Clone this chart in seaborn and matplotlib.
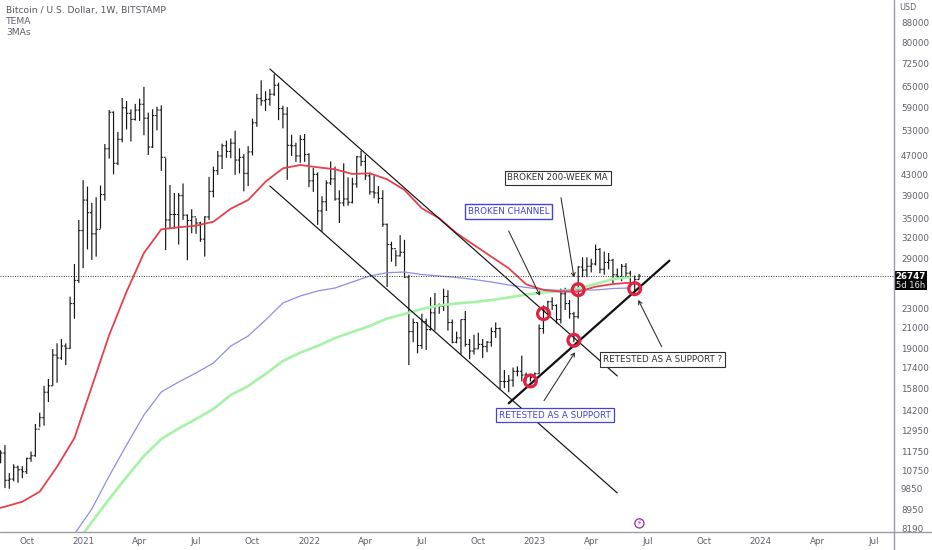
import matplotlib
matplotlib.use("Agg")
import matplotlib.pyplot as plt
import matplotlib.ticker as mticker
import matplotlib.transforms as mtrans
from matplotlib.lines import Line2D
from matplotlib.patches import Rectangle
import pandas as pd
import seaborn as sns

# weekly bars, Bitstamp BTCUSD
FIRST_WEEK = "2020-08-24"
OPENS = [
    11500, 11650, 10250, 10310, 10900, 10770, 10670, 11360, 11500, 13030,
    13750, 15500, 15970, 18450, 18200, 19250, 19050, 23500, 26200, 33100,
    38200, 36000, 32600, 33300, 39200, 48600, 57700, 45400, 50800, 58900,
    57400, 55800, 58300, 59900, 56100, 49000, 56800, 58300, 46700, 34800,
    35700, 35700, 39000, 35600, 34700, 35300, 34300, 31800, 35300, 39800,
    43850, 47000, 49300, 48000, 49900, 46100, 46700, 43300, 47900, 54900,
    61500, 60900, 61300, 62800, 65500, 58700, 57200, 49400, 49300, 47000,
    50800, 47300, 41800, 43100, 36300, 37900, 41400, 42200, 38400, 37700,
    38400, 37800, 41200, 46800, 45800, 42800, 39700, 39500, 38500, 34100,
    31000, 30400, 29400, 29900, 26600, 20600, 21500, 19300, 21600, 20800,
    22500, 23300, 23200, 24300, 21500, 19600, 20000, 21800, 19400, 18800,
    19000, 19400, 19200, 19600, 20600, 20900, 16300, 16300, 16400, 17100,
    17100, 16800, 16800, 16600, 16900, 20900, 22700, 23700, 23300, 21800,
    24600, 23500, 22400, 22100, 27900, 27500, 28000, 28300, 30300, 27600,
    28500, 28800, 26900, 26700, 28000, 27100, 25900, 26300,
]
HIGHS = [
    11800, 12090, 10600, 11050, 10980, 10950, 11400, 11730, 13350, 14080,
    15970, 16490, 18980, 19500, 19900, 19490, 24270, 28290, 34800, 41950,
    40700, 37700, 38700, 40900, 49700, 58300, 57900, 52600, 61700, 60800,
    58500, 60000, 61500, 65000, 57600, 58500, 59200, 59600, 46500, 41000,
    39500, 39500, 41300, 35700, 36600, 35100, 34500, 35400, 42600, 44700,
    48100, 49800, 50500, 51000, 52900, 48700, 47400, 49200, 56000, 62900,
    67000, 63700, 64300, 69000, 66300, 59500, 59100, 51900, 50000, 51800,
    52100, 47600, 44400, 43500, 38900, 41900, 45800, 44700, 40000, 45400,
    42500, 42400, 47000, 48200, 47200, 43400, 42900, 40800, 40000, 34200,
    31400, 30200, 32400, 31700, 26900, 21900, 21500, 22400, 21900, 24200,
    24700, 23500, 25200, 25000, 21800, 20600, 21800, 22700, 19900, 20300,
    20500, 19900, 19700, 21000, 21500, 21000, 17200, 16800, 17400, 17500,
    18400, 17000, 16900, 17000, 21300, 23300, 23800, 24200, 23400, 25200,
    25300, 23900, 22600, 28000, 29200, 29200, 29000, 31000, 30500, 30000,
    29800, 29000, 27700, 28300, 28400, 27400, 26800, 27000,
]
LOWS = [
    11100, 9880, 9850, 10200, 10130, 10350, 10560, 11180, 11450, 13150,
    13250, 14800, 15970, 16200, 18040, 17600, 19000, 21880, 25900, 27750,
    30300, 28850, 29300, 33400, 38100, 46400, 43100, 45000, 50100, 53200,
    50300, 55500, 55400, 51800, 47200, 48800, 53000, 43800, 30200, 33400,
    33400, 31000, 34800, 28800, 32700, 32600, 31400, 29300, 34800, 38700,
    43000, 44200, 46600, 46500, 43000, 43300, 39800, 40800, 47100, 53900,
    59500, 58000, 59500, 62300, 55600, 53500, 42000, 47000, 45700, 45500,
    45700, 40600, 39700, 34000, 32900, 36300, 41000, 38100, 34300, 37100,
    37200, 37600, 40500, 44800, 42000, 39200, 38500, 37600, 33700, 25400,
    28600, 28000, 29300, 26500, 17600, 19600, 18600, 19000, 18900, 20700,
    20700, 22400, 22700, 20700, 19500, 19500, 18500, 19200, 18100, 18500,
    19000, 18200, 18700, 19200, 20000, 15700, 15800, 15500, 15900, 16700,
    16300, 16300, 16300, 16500, 16900, 20400, 22300, 22800, 21400, 21400,
    22800, 21900, 19600, 21900, 26600, 26600, 27200, 28100, 27100, 26900,
    27600, 25800, 26400, 26100, 26500, 25400, 24800, 26300,
]
CLOSES = [
    11650, 10250, 10310, 10900, 10770, 10670, 11360, 11500, 13030, 13750,
    15500, 15970, 18450, 18200, 19250, 19050, 23500, 26200, 33100, 38200,
    36000, 32600, 33300, 39200, 48600, 57700, 45400, 50800, 58900, 57400,
    55800, 58300, 59900, 56100, 49000, 56800, 58300, 46700, 34800, 35700,
    35700, 39000, 35600, 34700, 35300, 34300, 31800, 35300, 39800, 43850,
    47000, 49300, 48000, 49900, 46100, 46700, 43300, 47900, 54900, 61500,
    60900, 61300, 62800, 65500, 58700, 57200, 49400, 49300, 47000, 50800,
    47300, 41800, 43100, 36300, 37900, 41400, 42200, 38400, 37700, 38400,
    37800, 41200, 46800, 45800, 42800, 39700, 39500, 38500, 34100, 31000,
    30400, 29400, 29900, 26600, 20600, 21500, 19300, 21600, 20800, 22500,
    23300, 23200, 24300, 21500, 19600, 20000, 21800, 19400, 18800, 19000,
    19400, 19200, 19600, 20600, 20900, 16300, 16300, 16400, 17100, 17100,
    16800, 16800, 16600, 16900, 20900, 22700, 23700, 23300, 21800, 24600,
    23500, 22400, 22100, 27900, 27500, 28000, 28300, 30300, 27600, 28500,
    28800, 26900, 26700, 28000, 27100, 25900, 26300, 26747,
]

# moving averages, one reading every four weeks
MA_START = "2020-08-03"
TEMA = [
    8875, 9054, 9270, 9715, 10926, 12501, 15905, 20275, 24846, 29795,
    33302, 33622, 33870, 34510, 36686, 38217, 41644, 44340, 45040, 44560,
    44140, 43180, 43320, 42115, 40050, 36750, 35070, 32685, 30940, 29285,
    27730, 25725, 25045, 24846, 24846, 25437, 25760, 25917,
]
MA_BLUE = [
    6888, 7965, 8957, 10459, 12098, 13927, 15516, 16262, 16964, 17777,
    19255, 20180, 21754, 23562, 24351, 24929, 25282, 26004, 26747, 27165,
    27250, 26936, 26747, 26560, 26312, 26004, 25640, 25342, 25105, 24987,
    25045, 25045, 25222, 25282,
]
MA_GREEN = [
    7528, 8429, 9388, 10411, 11487, 12443, 13070, 13668, 14325, 15299,
    15958, 16881, 17944, 18658, 19255, 19992, 20564, 21152, 21909, 22376,
    22909, 23289, 23508, 23673, 23895, 24180, 24522, 24752, 24929, 25222,
    25760, 26373, 26621,
]

LAST_PRICE = 26747
Y_TICKS = [88000, 80000, 72500, 65000, 59000, 53000, 47000, 43000, 39000, 35000, 32000, 29000,
           23000, 21000, 19000, 17400, 15800, 14200, 12950, 11750, 10750, 9850, 8950, 8190]
X_TICK_DATES = ["2020-10-05", "2021-01-04", "2021-04-05", "2021-07-05", "2021-10-04", "2022-01-03",
                "2022-04-04", "2022-07-04", "2022-10-03", "2023-01-02", "2023-04-03", "2023-07-03",
                "2023-10-02", "2024-01-01", "2024-04-01", "2024-07-01"]
X_TICK_LABELS = ["Oct", "2021", "Apr", "Jul", "Oct", "2022", "Apr", "Jul", "Oct", "2023", "Apr", "Jul",
                 "Oct", "2024", "Apr", "Jul"]

# drawing tools on the chart: (start date, start price, end date, end price)
CHANNEL_TOP = ("2021-11-01", 70690, "2023-05-15", 16726)
CHANNEL_BOTTOM = ("2021-11-01", 40810, "2023-05-15", 9656)
SUPPORT = ("2022-11-21", 14714, "2023-08-07", 28740)
RING_DATES = ["2023-01-16", "2023-03-13", "2023-03-06", "2022-12-26", "2023-06-12"]
RING_PRICES = [22408, 25080, 19777, 16337, 25198]

TEXT_GREY = "#5d606b"
AXIS_GREY = "#9b9ea6"
BLUE_TEXT = "#4343d6"
DARK = "#2f2f33"

sns.set_style("white")
plt.rcParams["font.family"] = ["DejaVu Sans"]

fig = plt.figure(figsize=(9.32, 5.5), dpi=100)
ax = fig.add_axes([0, 1 - 532 / 550, 894 / 932, 532 / 550])
# pixel coordinates of the picture, origin top left
px = mtrans.Affine2D().scale(1, -1).translate(0, 550)

bars = pd.DataFrame({"open": OPENS, "high": HIGHS, "low": LOWS, "close": CLOSES})
bars["date"] = pd.date_range(FIRST_WEEK, periods=len(bars), freq="7D")
ma_dates = pd.date_range(MA_START, periods=len(TEMA), freq="28D")
tema = pd.DataFrame({"date": ma_dates, "price": TEMA})
blue = pd.DataFrame({"date": ma_dates[4:], "price": MA_BLUE})
green = pd.DataFrame({"date": ma_dates[5:], "price": MA_GREEN})

ax.set_yscale("log")

tick = pd.Timedelta(days=2.9)
for coll in (
    ax.vlines(bars["date"], bars["low"], bars["high"], color="#151515", lw=0.85),
    ax.hlines(bars["open"], bars["date"] - tick, bars["date"], color="#151515", lw=0.75),
    ax.hlines(bars["close"], bars["date"], bars["date"] + tick, color="#151515", lw=0.75),
):
    coll.set_snap(False)

sns.lineplot(data=green, x="date", y="price", color="#a6f2a6", lw=1.9, errorbar=None, ax=ax)
sns.lineplot(data=blue, x="date", y="price", color="#8e8ee8", lw=0.9, errorbar=None, ax=ax)
sns.lineplot(data=tema, x="date", y="price", color="#e8404a", lw=1.3, errorbar=None, ax=ax)

for seg, width in ((CHANNEL_TOP, 0.85), (CHANNEL_BOTTOM, 0.85), (SUPPORT, 1.6)):
    ax.plot(pd.to_datetime([seg[0], seg[2]]), [seg[1], seg[3]], color="#111111", lw=width)

ax.axhline(LAST_PRICE, color="#333333", lw=0.7, ls=(0, (1, 1.5)))

ax.scatter(pd.to_datetime(RING_DATES), RING_PRICES, s=72, facecolors="none", edgecolors="#e3203f",
           linewidths=2.3, zorder=5)

ax.set_xlim(pd.Timestamp("2020-08-23"), pd.Timestamp("2024-08-03"))
ax.set_ylim(8040, 97730)
ax.yaxis.tick_right()
ax.yaxis.set_major_locator(mticker.FixedLocator(Y_TICKS))
ax.yaxis.set_major_formatter(mticker.FixedFormatter([str(v) for v in Y_TICKS]))
ax.yaxis.set_minor_locator(mticker.NullLocator())
ax.set_xticks(pd.to_datetime(X_TICK_DATES))
ax.set_xticklabels(X_TICK_LABELS)
ax.xaxis.set_minor_locator(mticker.NullLocator())
ax.tick_params(axis="y", length=0, pad=5, labelsize=6.3, labelcolor=TEXT_GREY)
ax.tick_params(axis="x", length=0, pad=3.5, labelsize=6.3, labelcolor=TEXT_GREY)
ax.set_xlabel("")
ax.set_ylabel("")
for spine in ax.spines.values():
    spine.set_visible(False)
ax.patch.set_alpha(0)

# frame lines run out to the picture edge
fig.add_artist(Line2D([894, 894], [0, 550], transform=px, color=AXIS_GREY, lw=1.0))
fig.add_artist(Line2D([0, 932], [532, 532], transform=px, color=AXIS_GREY, lw=1.0))

# price label
fig.add_artist(Rectangle((894, 271), 33, 19, transform=px, facecolor="#050505", edgecolor="none"))
fig.text(910.5, 276.5, "26747", transform=px, color="white", fontsize=6.2, fontweight="bold", ha="center", va="center")
fig.text(910.5, 285.5, "5d 16h", transform=px, color="#e8e8e8", fontsize=6.0, ha="center", va="center")
fig.text(908, 8, "USD", transform=px, color=TEXT_GREY, fontsize=5.8, ha="center", va="center")

# legend block
fig.text(6, 10.5, "Bitcoin / U.S. Dollar, 1W, BITSTAMP", transform=px, color="#555860", fontsize=6.6,
         fontweight="medium", va="center")
fig.text(6, 21.5, "TEMA", transform=px, color=TEXT_GREY, fontsize=6.6, va="center")
fig.text(6, 32.5, "3MAs", transform=px, color=TEXT_GREY, fontsize=6.6, va="center")

# callouts
boxes = [
    ("BROKEN 200-WEEK MA", 557.7, 178, DARK, 0.8),
    ("BROKEN CHANNEL", 508.8, 211.6, BLUE_TEXT, 1.0),
    ("RETESTED AS A SUPPORT ?", 662.8, 359.7, DARK, 0.8),
    ("RETESTED AS A SUPPORT", 554.8, 415, BLUE_TEXT, 0.9),
]
for label, x, y, colour, edge in boxes:
    ax.text(x, y, label, transform=px, color=colour, fontsize=6.3, ha="center", va="center", zorder=7,
            bbox=dict(boxstyle="square,pad=0.32", facecolor="white", edgecolor=colour, linewidth=edge))

arrows = [
    ((508.7, 231), (540, 295.7)),
    ((561, 197.7), (574, 277.3)),
    ((544, 400.7), (575, 352.3)),
    ((661.7, 346.7), (638.3, 300)),
]
for start, end in arrows:
    ax.annotate("", xy=end, xytext=start, xycoords=px, textcoords=px, zorder=6,
                arrowprops=dict(arrowstyle="->,head_length=0.25,head_width=0.14", color="#2b2b2b",
                                lw=0.75, shrinkA=0, shrinkB=0))

ax.text(639.4, 523.4, "\u26a1", transform=px, color="#9c27b0", fontsize=5.2, ha="center", va="center",
        bbox=dict(boxstyle="circle,pad=0.22", facecolor="white", edgecolor="#9c27b0", linewidth=0.9))

fig.savefig("out.png", dpi=100, facecolor="white")
